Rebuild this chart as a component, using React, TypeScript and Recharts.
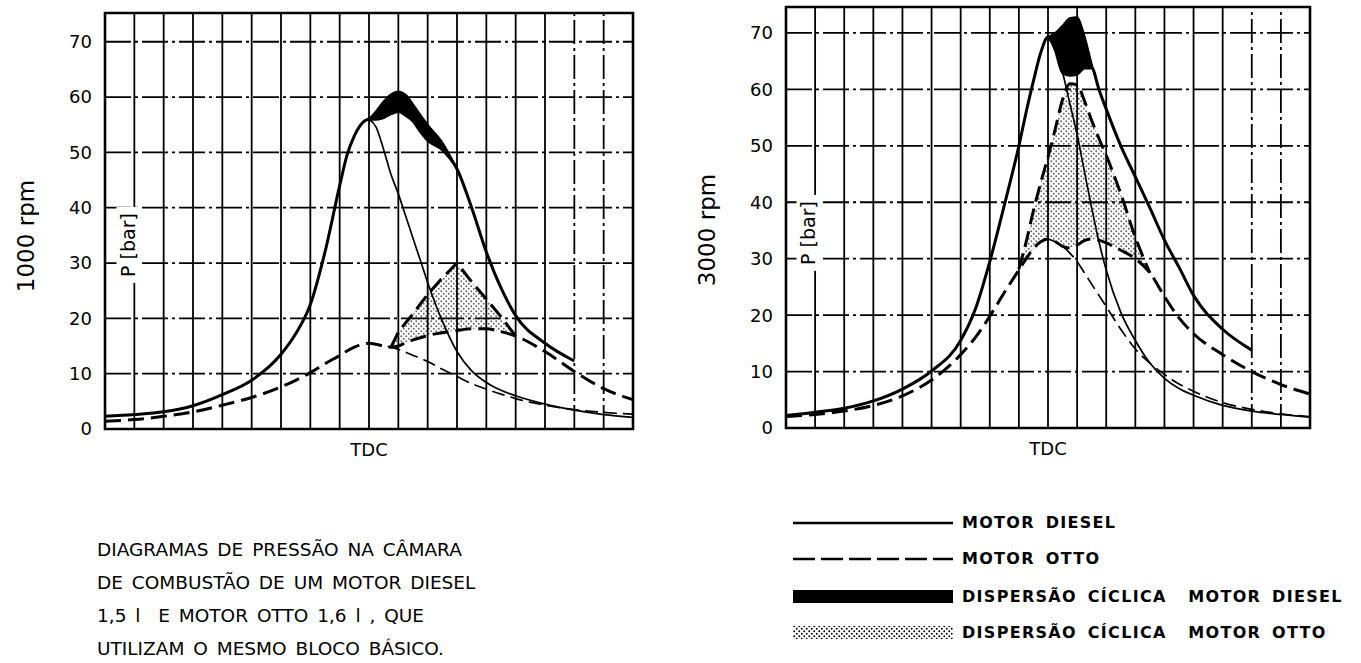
import React from 'react'
import { ComposedChart, Line, Area, XAxis, YAxis, ReferenceLine, ReferenceArea } from 'recharts'

// crank angle in degrees, TDC = 0, one grid cell = 10 deg
const angles = [
  -90, -80, -70, -60, -50, -40, -30, -25, -20, -15, -10, -7.5, -5, -2.5, 0, 2.5, 5, 7.5, 10, 12.5, 15, 17.5, 20, 25, 30,
  35, 40, 45, 50, 60, 70, 80, 90,
]
const _ = null

// 1000 rpm
const dieselFire1000 = [2.3, 2.6, 3.1, 4.2, 6.2, 8.8, 13.5, 17.2, 22.5, 32, 44, 49.5, 53, 55.2, 56, 56, 56.3, 57, 57.4, 56.7, 55.7, 53.8, 52.2, 50.5, 47, 40, 32, 25.5, 20.5, 15.5, 12.3, _, _]
const dieselPeak1000 = [_, _, _, _, _, _, _, _, _, _, _, _, _, _, 56, 57.5, 59.2, 60.5, 61, 60.4, 58.7, 56.8, 55, 51.8, 47, _, _, _, _, _, _, _, _]
const dieselMotor1000 = [_, _, _, _, _, _, _, _, _, _, _, _, _, _, 56, 54.5, 50.5, 46, 42.5, 38.5, 34.5, 30.5, 26.5, 19.5, 14, 10.5, 8.4, 7, 6, 4.5, 3.4, 2.6, 2.1]
const ottoFire1000 = [1.4, 1.7, 2.3, 3.1, 4.3, 5.7, 7.6, 8.8, 10.2, 11.8, 13.3, 14.1, 14.8, 15.3, 15.5, 15.3, 15, 14.8, 15, 15.6, 16.1, 16.5, 16.9, 17.4, 17.8, 18.1, 18.1, 17.6, 16.8, 14, 10.4, 7.3, 5.3]
const ottoPeak1000 = [_, _, _, _, _, _, _, _, _, _, _, _, _, _, _, _, _, 14.8, 17.5, 19.2, 20.8, 22.6, 24.3, 27.3, 30, 26.6, 23.5, 20.3, 16.8, _, _, _, _]
const ottoMotor1000 = [_, _, _, _, _, _, _, _, _, _, _, _, _, _, 15.5, 15.3, 15.1, 14.8, 14.4, 13.9, 13.3, 12.8, 12.2, 10.8, 9.5, 8.2, 7.2, 6.3, 5.5, 4.3, 3.5, 3.0, 2.7]

// 3000 rpm
const dieselFire3000 = [2.2, 2.8, 3.5, 4.8, 6.9, 10.1, 15.5, 21, 29.5, 39.5, 50, 56, 61.5, 66.5, 69.3, 67, 63, 62.5, 62.7, 63.8, 63.8, 60, 56.5, 50, 44.5, 39, 33.3, 28.5, 23.5, 17.5, 13.8, _, _]
const dieselPeak3000 = [_, _, _, _, _, _, _, _, _, _, _, _, _, _, 69.3, 70, 71.3, 72.6, 72.8, 69.5, 64.5, 60, _, _, _, _, _, _, _, _, _, _, _]
const dieselMotor3000 = [_, _, _, _, _, _, _, _, _, _, _, _, _, _, 69.3, 67, 63, 57.5, 52, 45.5, 39, 33, 28, 20.5, 15.5, 11.5, 8.8, 7, 5.8, 4, 3, 2.4, 1.9]
const ottoFire3000 = [2, 2.4, 3, 4, 5.7, 8.5, 13, 16, 19.8, 24, 28, 30, 31.8, 33, 33.5, 33, 32.2, 31.9, 32.4, 33.2, 33.5, 33.3, 32.8, 31.5, 30, 27.5, 23.3, 19.5, 16.7, 13, 10, 7.7, 6]
const ottoPeak3000 = [_, _, _, _, _, _, _, _, _, _, 28.2, 33, 38.5, 43.5, 48, 53, 58.2, 61, 60.8, 58, 54.5, 51.3, 48.3, 41.5, 33.8, 27.5, _, _, _, _, _, _, _]
const ottoMotor3000 = [_, _, _, _, _, _, _, _, _, _, _, _, _, _, 33.5, 33, 32.2, 31, 29.5, 27.5, 25.5, 23.5, 21.5, 17.5, 14, 11.5, 9.5, 7.8, 6.5, 4.5, 3.3, 2.5, 2]

const gridX = [-80, -70, -60, -50, -40, -30, -20, -10, 0, 10, 20, 30, 40, 50, 60, 70, 80]
const dashedGridX = [70, 80]
const yTicks = [0, 10, 20, 30, 40, 50, 60, 70]

const captionLines = [
  'DIAGRAMAS DE PRESSÃO NA CÂMARA',
  'DE COMBUSTÃO DE UM MOTOR DIESEL',
  '1,5 l  E MOTOR OTTO 1,6 l , QUE',
  'UTILIZAM O MESMO BLOCO BÁSICO.',
]
const legendItems = [
  { kind: 'solid', label: 'MOTOR DIESEL' },
  { kind: 'dashed', label: 'MOTOR OTTO' },
  { kind: 'black', label: 'DISPERSÃO CÍCLICA  MOTOR DIESEL' },
  { kind: 'dots', label: 'DISPERSÃO CÍCLICA  MOTOR OTTO' },
]
const legendRowY = [521, 557, 595, 631]

const FONT = '"DejaVu Sans", sans-serif'

type Num = number | null

function buildRows(dFire: Num[], dPeak: Num[], dMotor: Num[], oFire: Num[], oPeak: Num[], oMotor: Num[]) {
  return angles.map((a, i) => ({
    angle: a,
    dFire: dFire[i],
    dPeak: dPeak[i],
    dMotor: dMotor[i],
    oFire: oFire[i],
    oPeak: oPeak[i],
    oMotor: oMotor[i],
    dBand: dPeak[i] != null && dFire[i] != null ? [dFire[i], dPeak[i]] : null,
    oBand: oPeak[i] != null && oFire[i] != null ? [oFire[i], oPeak[i]] : null,
  }))
}

function Dots({ id }: { id: string }) {
  return (
    <pattern id={id} width="5" height="5" patternUnits="userSpaceOnUse">
      <circle cx="1.25" cy="1.25" r="0.95" fill="#000" />
      <circle cx="3.75" cy="3.75" r="0.95" fill="#000" />
    </pattern>
  )
}

interface PressureChartProps {
  id: string
  rows: ReturnType<typeof buildRows>
  yTop: number
  width: number
  margin: { top: number; right: number; bottom: number; left: number }
  peakType: 'linear' | 'monotone'
}

function PressureChart({ id, rows, yTop, width, margin, peakType }: PressureChartProps) {
  return (
    <ComposedChart width={width} height={480} data={rows} margin={margin}>
      <defs>
        <Dots id={id} />
      </defs>
      <XAxis
        dataKey="angle"
        type="number"
        domain={[-90, 90]}
        ticks={[0]}
        tickFormatter={() => 'TDC'}
        axisLine={false}
        tickLine={false}
        tickSize={0}
        tickMargin={14}
        height={30}
        tick={{ fontSize: 18, fill: '#000', fontFamily: FONT }}
      />
      <YAxis
        type="number"
        domain={[0, yTop]}
        ticks={yTicks}
        axisLine={false}
        tickLine={false}
        tickSize={0}
        tickMargin={13}
        width={60}
        tick={{ fontSize: 18, fill: '#000', fontFamily: FONT }}
      />
      {gridX.map((v) => (
        <ReferenceLine
          key={'x' + v}
          x={v}
          stroke="#000"
          strokeWidth={1.8}
          strokeDasharray={dashedGridX.includes(v) ? '24 4 3 4' : undefined}
        />
      ))}
      {yTicks.slice(1).map((v) => (
        <ReferenceLine key={'y' + v} y={v} stroke="#000" strokeWidth={1.8} strokeDasharray="26 4 3 4" />
      ))}
      <ReferenceArea x1={-90} x2={90} y1={0} y2={yTop} fill="none" stroke="#000" strokeWidth={2.6} />
      <Area dataKey="oBand" type={peakType} fill={`url(#${id})`} stroke="none" isAnimationActive={false} />
      <Area dataKey="dBand" type="monotone" fill="#000" fillOpacity={1} stroke="#000" strokeWidth={1} isAnimationActive={false} />
      <Line dataKey="dMotor" type="monotone" stroke="#000" strokeWidth={1.7} dot={false} isAnimationActive={false} />
      <Line dataKey="dFire" type="monotone" stroke="#000" strokeWidth={3} dot={false} isAnimationActive={false} />
      <Line dataKey="dPeak" type="monotone" stroke="#000" strokeWidth={2} dot={false} isAnimationActive={false} />
      <Line dataKey="oMotor" type="monotone" stroke="#000" strokeWidth={1.7} strokeDasharray="13 6" dot={false} isAnimationActive={false} />
      <Line dataKey="oFire" type="monotone" stroke="#000" strokeWidth={3} strokeDasharray="16 7" dot={false} isAnimationActive={false} />
      <Line dataKey="oPeak" type={peakType} stroke="#000" strokeWidth={3} strokeDasharray="16 7" dot={false} isAnimationActive={false} />
    </ComposedChart>
  )
}

const rows1000 = buildRows(dieselFire1000, dieselPeak1000, dieselMotor1000, ottoFire1000, ottoPeak1000, ottoMotor1000)
const rows3000 = buildRows(dieselFire3000, dieselPeak3000, dieselMotor3000, ottoFire3000, ottoPeak3000, ottoMotor3000)

function Rotated({ x, y, size, text, bg }: { x: number; y: number; size: number; text: string; bg?: boolean }) {
  return (
    <div
      style={{
        position: 'absolute',
        left: x,
        top: y,
        transform: 'translate(-50%, -50%) rotate(-90deg)',
        whiteSpace: 'nowrap',
        fontFamily: FONT,
        fontSize: size,
        lineHeight: 1,
        background: bg ? '#fff' : 'transparent',
        padding: bg ? '2px 6px' : 0,
      }}
    >
      {text}
    </div>
  )
}

function LegendSample({ kind }: { kind: string }) {
  return (
    <svg width={160} height={16} style={{ display: 'block' }}>
      <defs>
        <Dots id="legdots" />
      </defs>
      {kind === 'solid' && <line x1={0} x2={160} y1={8} y2={8} stroke="#000" strokeWidth={2.4} />}
      {kind === 'dashed' && <line x1={0} x2={160} y1={8} y2={8} stroke="#000" strokeWidth={2.4} strokeDasharray="22 6" />}
      {kind === 'black' && <rect x={0} y={1} width={160} height={13} fill="#000" />}
      {kind === 'dots' && <rect x={0} y={1} width={160} height={13} fill="url(#legdots)" />}
    </svg>
  )
}

export default function App() {
  return (
    <div style={{ position: 'absolute', left: 0, top: 0, width: 1361, height: 663, background: '#fff', overflow: 'hidden' }}>
      <div style={{ position: 'absolute', left: 0, top: 0 }}>
        <PressureChart id="dots1000" rows={rows1000} yTop={75.2} width={680} margin={{ top: 13, right: 47, bottom: 21, left: 45 }} peakType="linear" />
      </div>
      <div style={{ position: 'absolute', left: 680, top: 0 }}>
        <PressureChart id="dots3000" rows={rows3000} yTop={74.6} width={681} margin={{ top: 7, right: 51, bottom: 22, left: 46 }} peakType="monotone" />
      </div>
      <Rotated x={26} y={236} size={23} text="1000 rpm" />
      <Rotated x={707} y={230} size={23} text="3000 rpm" />
      <Rotated x={128} y={245} size={19} text="P [bar]" bg />
      <Rotated x={808} y={233} size={19} text="P [bar]" bg />

      <div style={{ position: 'absolute', left: 97, top: 533, fontFamily: FONT, fontSize: 18.5, lineHeight: '33px', wordSpacing: 3 }}>
        {captionLines.map((t) => (
          <div key={t} style={{ whiteSpace: 'pre' }}>{t}</div>
        ))}
      </div>

      {legendItems.map((it, i) => (
        <div
          key={it.label}
          style={{ position: 'absolute', left: 793, top: legendRowY[i] - 8, display: 'flex', alignItems: 'center' }}
        >
          <LegendSample kind={it.kind} />
          <span style={{ marginLeft: 9, fontFamily: FONT, fontWeight: 700, fontSize: 16, letterSpacing: 1.3, wordSpacing: 4, whiteSpace: 'pre' }}>
            {it.label}
          </span>
        </div>
      ))}
    </div>
  )
}
